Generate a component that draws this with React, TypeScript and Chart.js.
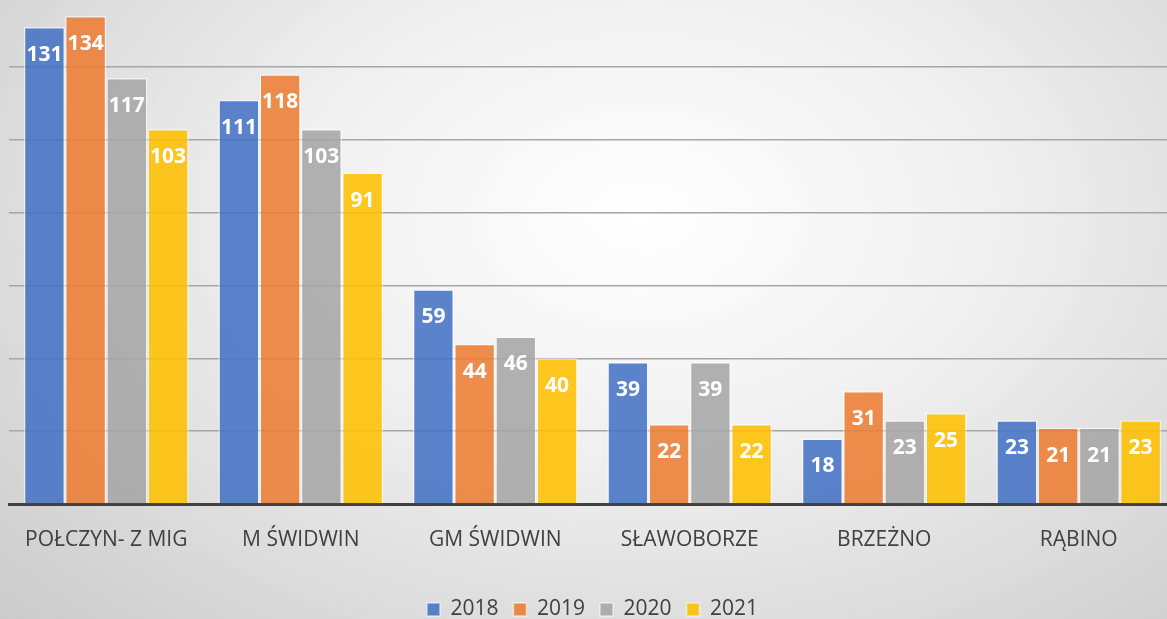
import React, { useEffect, useRef } from "react";
import { Chart, registerables } from "chart.js";

Chart.register(...registerables);

const categories = ["POŁCZYN- Z MIG", "M ŚWIDWIN", "GM ŚWIDWIN", "SŁAWOBORZE", "BRZEŻNO", "RĄBINO"];
const years = ["2018", "2019", "2020", "2021"];
const values2018 = [131, 111, 59, 39, 18, 23];
const values2019 = [134, 118, 44, 22, 31, 21];
const values2020 = [117, 103, 46, 39, 23, 21];
const values2021 = [103, 91, 40, 22, 25, 23];
const seriesColors = ["rgba(68,114,196,0.87)", "rgba(237,125,49,0.87)", "rgba(165,165,165,0.87)", "rgba(255,192,0,0.87)"];

const FONT = "'Open Sans', 'Noto Sans', sans-serif";

const dataLabels = {
  id: "dataLabels",
  afterDatasetsDraw(chart: any) {
    const ctx = chart.ctx;
    ctx.save();
    ctx.font = `bold 21px ${FONT}`;
    ctx.fillStyle = "#ffffff";
    ctx.textAlign = "center";
    ctx.textBaseline = "middle";
    chart.data.datasets.forEach((ds: any, i: number) => {
      const meta = chart.getDatasetMeta(i);
      meta.data.forEach((el: any, j: number) => {
        ctx.fillText(String(ds.data[j]), el.x, el.y + 28);
      });
    });
    ctx.restore();
  },
};

export default function App() {
  const ref = useRef<HTMLCanvasElement>(null);
  useEffect(() => {
    const all = [values2018, values2019, values2020, values2021];
    const chart = new Chart(ref.current!, {
      type: "bar",
      data: {
        labels: categories,
        datasets: years.map((y, i) => ({
          label: y,
          data: all[i],
          backgroundColor: seriesColors[i],
          borderColor: "rgba(255,255,255,0.55)",
          borderWidth: 1.5,
          barPercentage: 1,
          categoryPercentage: 0.848,
        })),
      },
      options: {
        animation: false,
        responsive: false,
        maintainAspectRatio: false,
        layout: { padding: { left: 9, right: 14, top: 0, bottom: 0 } },
        plugins: {
          tooltip: { enabled: false },
          legend: {
            position: "bottom",
            labels: {
              font: { family: FONT, size: 21 },
              color: "#404040",
              boxWidth: 13,
              boxHeight: 13,
              padding: 15,
            },
          },
        },
        scales: {
          x: {
            grid: { display: false },
            border: { display: true, color: "#404040", width: 3 },
            ticks: { font: { family: FONT, size: 21 }, color: "#404040", padding: 15, maxRotation: 0 },
            afterFit(scale: any) {
              scale.height = 80;
            },
          },
          y: {
            min: 0,
            max: 138.4,
            ticks: { display: false, stepSize: 20 },
            afterBuildTicks(scale: any) {
              scale.ticks = scale.ticks.filter((t: any) => t.value % 20 === 0);
            },
            border: { display: false },
            grid: { color: "#a6a6a6", lineWidth: 1.5, drawTicks: false },
            afterFit(scale: any) {
              scale.width = 0;
            },
          },
        },
      },
      plugins: [dataLabels],
    });
    return () => chart.destroy();
  }, []);
  return (
    <div
      style={{
        position: "fixed",
        left: 0,
        top: 0,
        width: 1167,
        height: 619,
        overflow: "hidden",
        background: "radial-gradient(ellipse 75% 95% at 55% 35%, #ffffff 0%, #f0f0f0 40%, #cbcbcb 100%)",
      }}
    >
      <canvas ref={ref} width={1190} height={630} style={{ display: "block", width: 1190, height: 630 }} />
    </div>
  );
}
